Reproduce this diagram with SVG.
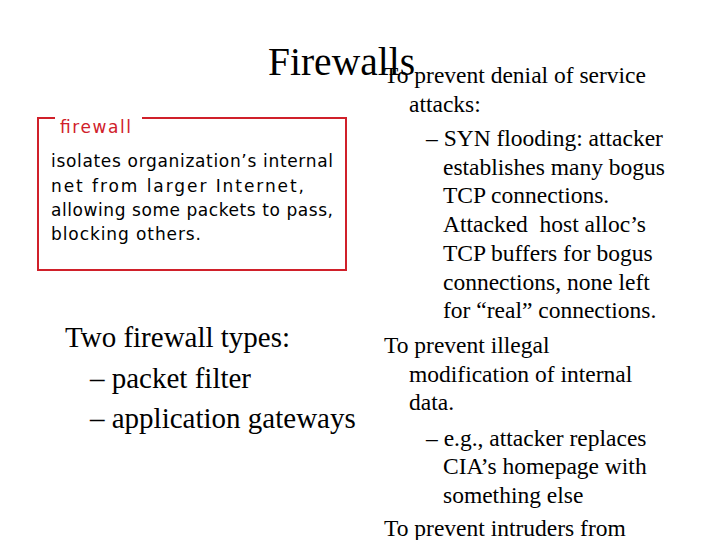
<svg xmlns="http://www.w3.org/2000/svg" width="720" height="540" viewBox="0 0 720 540">
<style>
.t{font-family:"Liberation Serif",serif;fill:#000}
.r{font-size:23.5px}
.s{font-family:"DejaVu Sans","Liberation Sans",sans-serif;font-size:17px;fill:#000}
</style>
<rect width="720" height="540" fill="#fff"/>
<g id="title"><text class="t" x="268" y="75" font-size="39.5">Firewalls</text></g>
<g id="box">
<path d="M55 118 H38 V270 H346 V118 H142" fill="none" stroke="#d0202a" stroke-width="2"/>
<text class="s" x="60" y="133" textLength="71" style="fill:#d0202a">firewall</text>
<text class="s" x="51" y="167" textLength="282">isolates organization’s internal</text>
<text class="s" x="51" y="192" textLength="253">net from larger Internet,</text>
<text class="s" x="51" y="216" textLength="282">allowing some packets to pass,</text>
<text class="s" x="51" y="240" textLength="150">blocking others.</text>
</g>
<g id="types">
<text class="t" font-size="29" x="65" y="347">Two firewall types:</text>
<text class="t" font-size="29" x="90" y="388">– packet filter</text>
<text class="t" font-size="29" x="90" y="428">– application gateways</text>
</g>
<g id="right">
<text class="t r" x="384" y="83">To prevent denial of service</text>
<text class="t r" x="409" y="112">attacks:</text>
<text class="t r" x="426" y="146">– SYN flooding: attacker</text>
<text class="t r" x="443" y="175">establishes many bogus</text>
<text class="t r" x="443" y="203">TCP connections.</text>
<text class="t r" x="443" y="232" xml:space="preserve">Attacked  host alloc’s</text>
<text class="t r" x="443" y="261">TCP buffers for bogus</text>
<text class="t r" x="443" y="290">connections, none left</text>
<text class="t r" x="443" y="318">for “real” connections.</text>
<text class="t r" x="384" y="353">To prevent illegal</text>
<text class="t r" x="409" y="382">modification of internal</text>
<text class="t r" x="409" y="410">data.</text>
<text class="t r" x="426" y="446">– e.g., attacker replaces</text>
<text class="t r" x="443" y="474">CIA’s homepage with</text>
<text class="t r" x="443" y="503">something else</text>
<text class="t r" x="384" y="536">To prevent intruders from</text>
</g>
</svg>
